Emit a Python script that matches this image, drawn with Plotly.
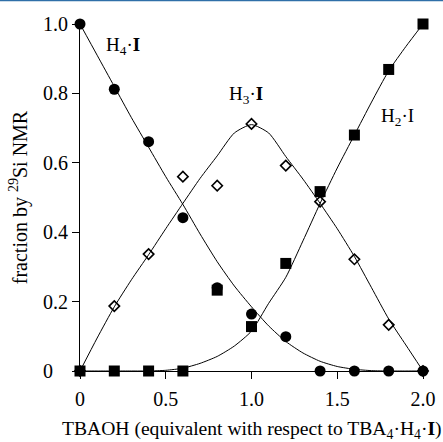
import plotly.graph_objects as go

# measured points
x_pts = [0.0, 0.2, 0.4, 0.6, 0.8, 1.0, 1.2, 1.4, 1.6, 1.8, 2.0]
h4_pts = [1.0, 0.812, 0.661, 0.442, 0.24, 0.164, 0.099, 0.0, 0.0, 0.0, 0.0]
h3_pts = [0.0, 0.187, 0.337, 0.56, 0.534, 0.712, 0.592, 0.488, 0.322, 0.133, 0.0]
h2_pts = [0.0, 0.0, 0.0, 0.0, 0.233, 0.128, 0.31, 0.517, 0.68, 0.869, 1.0]

# fitted curves
x_fit = [0.0, 0.1, 0.2, 0.3, 0.4, 0.5, 0.6, 0.7, 0.8, 0.9, 1.0,
         1.1, 1.2, 1.3, 1.4, 1.5, 1.6, 1.7, 1.8, 1.9, 2.0]
h4_fit = [1.0, 0.91, 0.82, 0.73, 0.645, 0.56, 0.48, 0.395, 0.315, 0.245, 0.185,
          0.13, 0.085, 0.052, 0.028, 0.013, 0.005, 0.001, 0.0, 0.0, 0.0]
h3_fit = [0.0, 0.095, 0.185, 0.263, 0.335, 0.41, 0.483, 0.555, 0.62, 0.686, 0.71,
          0.686, 0.618, 0.553, 0.483, 0.41, 0.33, 0.24, 0.15, 0.075, 0.0]
h2_fit = [0.0, 0.0, 0.0, 0.0, 0.0, 0.002, 0.008, 0.022, 0.042, 0.072, 0.115,
          0.195, 0.27, 0.375, 0.483, 0.585, 0.68, 0.775, 0.865, 0.935, 1.0]

x_ticks = [0, 0.5, 1.0, 1.5, 2.0]
x_ticktext = ["0", "0.5", "1.0", "1.5", "2.0"]
y_ticks = [0, 0.2, 0.4, 0.6, 0.8, 1.0]
y_ticktext = ["0\u00a0\u00a0\u00a0", "0.2", "0.4", "0.6", "0.8", "1.0"]

x_title = "TBAOH (equivalent with respect to TBA<sub>4</sub>·H<sub>4</sub>·<b>I</b>)"
y_title = "fraction by <sup>29</sup>Si NMR"

labels = ["H<sub>4</sub>·<b>I</b>", "H<sub>3</sub>·<b>I</b>", "H<sub>2</sub>·I"]
label_x = [0.25, 0.97, 1.85]
label_y = [0.937, 0.795, 0.732]

FONT = "Liberation Serif, Times New Roman, serif"
FS = 20

fig = go.Figure()
line_style = dict(color="black", width=1, shape="spline", smoothing=0.6)
for yf in (h4_fit, h3_fit, h2_fit):
    fig.add_trace(go.Scatter(x=x_fit, y=yf, mode="lines", line=line_style,
                             hoverinfo="skip", showlegend=False, cliponaxis=False))

fig.add_trace(go.Scatter(x=x_pts, y=h4_pts, mode="markers", showlegend=False,
                         cliponaxis=False,
                         marker=dict(symbol="circle", size=11, color="black",
                                     line=dict(width=0))))
fig.add_trace(go.Scatter(x=x_pts, y=h3_pts, mode="markers", showlegend=False,
                         cliponaxis=False,
                         marker=dict(symbol="diamond-open", size=8, color="black",
                                     line=dict(width=1.6, color="black"))))
fig.add_trace(go.Scatter(x=x_pts, y=h2_pts, mode="markers", showlegend=False,
                         cliponaxis=False,
                         marker=dict(symbol="square", size=11, color="black",
                                     line=dict(width=0))))

for t, lx, ly in zip(labels, label_x, label_y):
    fig.add_annotation(x=lx, y=ly, text=t, showarrow=False,
                       font=dict(family=FONT, size=19, color="black"))

# x axis title placed as a paper annotation below the tick labels
fig.add_annotation(xref="paper", yref="paper", x=0.5, y=-59 / 347,
                   xanchor="center", yanchor="middle", showarrow=False,
                   text=x_title, font=dict(family=FONT, size=19.6, color="black"))

# thin blue rule along the top edge of the image
fig.add_shape(type="line", xref="paper", yref="paper",
              x0=-0.3, x1=1.3, y0=1 + 23.5 / 347, y1=1 + 23.5 / 347,
              line=dict(color="#2f6fa8", width=1.5))

fig.update_layout(
    width=443, height=442,
    margin=dict(l=80, r=20, t=24, b=71),
    paper_bgcolor="white", plot_bgcolor="white",
    font=dict(family=FONT, size=FS, color="black"),
    xaxis=dict(range=[0, 2.0], tickvals=x_ticks, ticktext=x_ticktext,
               automargin=False, ticklabelstandoff=3,
               showgrid=False, zeroline=False, showline=True, linecolor="black",
               linewidth=1, ticks="outside", ticklen=7, tickwidth=1,
               tickcolor="black", tickfont=dict(size=FS)),
    yaxis=dict(range=[0, 1.0], tickvals=y_ticks, ticktext=y_ticktext,
               automargin=False,
               showgrid=False, zeroline=False, showline=True, linecolor="black",
               linewidth=1, ticks="outside", ticklen=7, tickwidth=1,
               tickcolor="black", tickfont=dict(size=FS),
               title=dict(text=y_title, font=dict(size=FS), standoff=10)),
)

fig.write_html("out.html")
